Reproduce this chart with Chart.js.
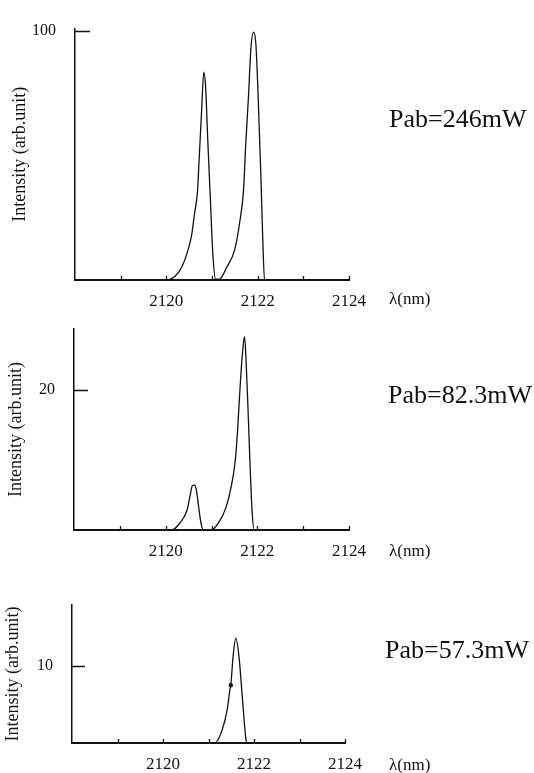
<!DOCTYPE html>
<html>
<head>
<meta charset="utf-8">
<script src="https://cdn.jsdelivr.net/npm/chart.js@4.4.1/dist/chart.umd.min.js"></script>
<style>
  html, body { margin: 0; padding: 0; background: #fff; }
  #wrap { position: relative; width: 534px; height: 773px; }
  #wrap canvas { position: absolute; left: 0; top: 0; }
</style>
</head>
<body>
<div id="wrap">
  <canvas id="chart246" width="534" height="773"></canvas>
  <canvas id="chart82" width="534" height="773"></canvas>
  <canvas id="chart57" width="534" height="773"></canvas>
</div>
<script>
// ---- Data ----
// Pab = 246 mW
const wl246 = [2118, 2120.0, 2120.29, 2120.44, 2120.55, 2120.62, 2120.68, 2120.72, 2120.77, 2120.82,
  2120.86, 2120.91, 2120.97, 2121.02, 2121.08, 2121.16, 2121.32, 2121.5, 2121.61, 2121.69,
  2121.74, 2121.8, 2121.85, 2121.91, 2121.96, 2122.01, 2122.07, 2122.11, 2122.15, 2124];
const int246 = [0, 0, 3.7, 10, 17.6, 27, 35, 49, 67, 83.5,
  77.5, 55, 30, 10, 0.3, 0.3, 5, 12.4, 23.6, 36,
  55, 74, 92.5, 99.6, 95, 74, 42, 17.6, 0, 0];

// Pab = 82.3 mW
const wl82 = [2118, 2120.13, 2120.31, 2120.47, 2120.53, 2120.58, 2120.63, 2120.67, 2120.72, 2120.77,
  2120.82, 2120.99, 2121.17, 2121.32, 2121.43, 2121.52, 2121.57, 2121.62, 2121.67, 2121.72,
  2121.75, 2121.8, 2121.84, 2121.88, 2121.93, 2124];
const int82 = [0, 0, 1.0, 2.9, 4.8, 6.3, 6.4, 5.7, 3.3, 1.0,
  0, 0, 1.2, 3.3, 6.2, 10, 14.3, 20, 24.8, 27.6,
  24.8, 16.7, 9.5, 3.3, 0, 0];

// Pab = 57.3 mW
const wl57 = [2118, 2121.14, 2121.3, 2121.41, 2121.47, 2121.49, 2121.54, 2121.6, 2121.67, 2121.76, 2121.82, 2121.85, 2124];
const int57 = [0, 0, 1.7, 4.3, 6.9, 7.5, 11.2, 13.6, 11.2, 4.7, 0.6, 0, 0];
const marked57 = 5; // the dot sitting on the rising edge

// ---- Axis ticks / labels ----
const xMinorTicks = [2119, 2120, 2121, 2122, 2123, 2124];
const xLabelTicks = [2120, 2122, 2124];
const powerLabels = ["Pab=246mW", "Pab=82.3mW", "Pab=57.3mW"];
const yTickValues = [100, 20, 10];
const unitLabel = "\u03bb(nm)";
const yTitle = "Intensity (arb.unit)";

const INK = "#111";
const SERIF = '"Liberation Serif", "Times New Roman", serif';

// ---- Inward ticks + side labels ----
const panelDecor = {
  id: "panelDecor",
  afterDatasetsDraw(chart, args, opts) {
    const { ctx, chartArea, scales } = chart;
    ctx.save();
    ctx.strokeStyle = INK;
    ctx.lineWidth = 1.3;
    ctx.beginPath();
    xMinorTicks.forEach((v) => {
      const px = Math.round(scales.x.getPixelForValue(v)) + 0.5;
      ctx.moveTo(px, chartArea.bottom);
      ctx.lineTo(px, chartArea.bottom - 4);
    });
    const py = Math.round(scales.y.getPixelForValue(opts.yTick)) + 0.5;
    ctx.moveTo(chartArea.left, py);
    ctx.lineTo(chartArea.left + opts.yTickLen, py);
    ctx.stroke();

    ctx.fillStyle = INK;
    ctx.textBaseline = "middle";
    ctx.textAlign = "left";
    ctx.font = "26px " + SERIF;
    ctx.fillText(opts.power, opts.powerX, opts.powerY);
    ctx.font = "17px " + SERIF;
    ctx.fillText(unitLabel, 389, opts.unitY);
    ctx.restore();
  },
};

function makePanel(canvasId, wl, inten, p) {
  const pts = wl.map((x, i) => ({ x: x, y: inten[i] }));
  return new Chart(document.getElementById(canvasId), {
    type: "line",
    data: {
      datasets: [
        {
          data: pts,
          borderColor: INK,
          borderWidth: 1.3,
          cubicInterpolationMode: "monotone",
          fill: false,
          pointRadius: (c) => (c.dataIndex === p.markIndex ? 2.2 : 0),
          pointBackgroundColor: INK,
          pointBorderWidth: 0,
        },
      ],
    },
    options: {
      responsive: false,
      animation: false,
      devicePixelRatio: 1,
      layout: {
        padding: { left: 0, top: p.top, right: 534 - p.right, bottom: 773 - p.bottom - 30 },
      },
      plugins: {
        legend: { display: false },
        tooltip: { enabled: false },
        panelDecor: {
          yTick: p.yTick,
          yTickLen: p.yTickLen,
          power: p.power,
          powerX: p.powerX,
          powerY: p.powerY,
          unitY: p.unitY,
        },
      },
      scales: {
        x: {
          type: "linear",
          min: 2118,
          max: 2124,
          afterFit: (s) => { s.height = 30; },
          afterBuildTicks: (s) => { s.ticks = xLabelTicks.map((v) => ({ value: v })); },
          grid: { display: false, drawTicks: false },
          border: { color: INK, width: 2 },
          ticks: {
            autoSkip: false,
            maxRotation: 0,
            padding: 11,
            color: INK,
            font: { family: SERIF, size: 17 },
            callback: (v) => String(v),
          },
        },
        y: {
          min: 0,
          max: p.yMax,
          afterFit: (s) => { s.width = p.left; },
          afterBuildTicks: (s) => { s.ticks = [{ value: p.yTick }]; },
          grid: { display: false, drawTicks: false },
          border: { color: INK, width: 1.5 },
          ticks: {
            padding: 19,
            color: INK,
            font: { family: SERIF, size: 16 },
            callback: (v) => String(v),
          },
          title: {
            display: true,
            text: yTitle,
            color: INK,
            font: { family: SERIF, size: 18 },
            padding: { top: p.titlePad, bottom: 0 },
          },
        },
      },
    },
    plugins: [panelDecor],
  });
}

makePanel("chart246", wl246, int246, {
  left: 75, right: 349, top: 10, bottom: 280, yMax: 101, yTick: yTickValues[0], yTickLen: 15,
  titlePad: 9, power: powerLabels[0], powerX: 389, powerY: 120, unitY: 300, markIndex: -1,
});
makePanel("chart82", wl82, int82, {
  left: 74, right: 349, top: 329, bottom: 530, yMax: 28.7, yTick: yTickValues[1], yTickLen: 14,
  titlePad: 5, power: powerLabels[1], powerX: 388, powerY: 396, unitY: 552, markIndex: -1,
});
makePanel("chart57", wl57, int57, {
  left: 72, right: 345, top: 605, bottom: 743, yMax: 17.9, yTick: yTickValues[2], yTickLen: 13,
  titlePad: 2, power: powerLabels[2], powerX: 385, powerY: 651, unitY: 766, markIndex: marked57,
});
</script>
</body>
</html>
